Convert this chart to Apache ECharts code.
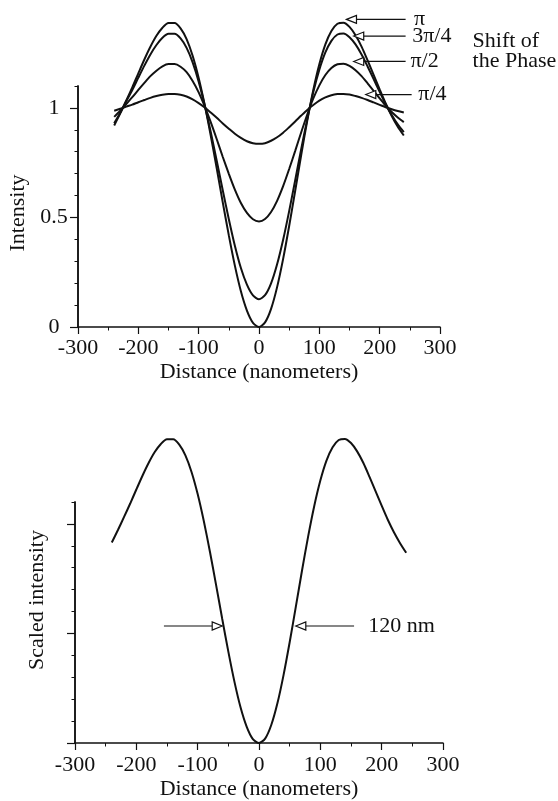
<!DOCTYPE html>
<html>
<head>
<meta charset="utf-8">
<script src="https://cdn.jsdelivr.net/npm/echarts@6/dist/echarts.min.js"></script>
<style>
  html, body { margin: 0; padding: 0; background: #ffffff; }
  #chart { width: 558px; height: 801px; }
</style>
</head>
<body>
<div id="chart"></div>
<script>
// Distance along the profile (nm)
const distance = [
  -240, -230, -220, -210, -200, -190, -180, -170, -160, -150, -140, -130, -120,
  -110, -100, -90, -80, -70, -60, -50, -40, -30, -20, -10, 0,
  10, 20, 30, 40, 50, 60, 70, 80, 90, 100, 110, 120,
  130, 140, 150, 160, 170, 180, 190, 200, 210, 220, 230, 240
];

// Intensity for each phase shift
const intensityPi = [
  0.920, 0.975, 1.034, 1.094, 1.158, 1.221, 1.279, 1.329, 1.366, 1.387, 1.387, 1.363, 1.314,
  1.238, 1.137, 1.014, 0.874, 0.723, 0.568, 0.418, 0.280, 0.163, 0.075, 0.019, 0.000,
  0.021, 0.083, 0.182, 0.311, 0.461, 0.622, 0.786, 0.942, 1.082, 1.199, 1.290, 1.351,
  1.384, 1.389, 1.370, 1.332, 1.280, 1.217, 1.151, 1.084, 1.020, 0.963, 0.914, 0.874
];
const intensity3Pi4 = [
  0.930, 0.978, 1.030, 1.082, 1.138, 1.193, 1.244, 1.287, 1.320, 1.338, 1.338, 1.317, 1.274,
  1.208, 1.120, 1.012, 0.890, 0.758, 0.623, 0.492, 0.371, 0.269, 0.193, 0.144, 0.127,
  0.145, 0.199, 0.286, 0.398, 0.529, 0.670, 0.813, 0.949, 1.072, 1.174, 1.253, 1.306,
  1.335, 1.340, 1.323, 1.290, 1.244, 1.189, 1.132, 1.073, 1.017, 0.968, 0.925, 0.890
];
const intensityPi2 = [
  0.959, 0.987, 1.018, 1.049, 1.082, 1.114, 1.145, 1.170, 1.190, 1.200, 1.200, 1.188, 1.163,
  1.123, 1.071, 1.007, 0.935, 0.857, 0.776, 0.699, 0.627, 0.566, 0.521, 0.492, 0.482,
  0.493, 0.525, 0.576, 0.643, 0.721, 0.804, 0.889, 0.970, 1.043, 1.103, 1.150, 1.182,
  1.199, 1.202, 1.192, 1.172, 1.145, 1.112, 1.078, 1.044, 1.010, 0.981, 0.956, 0.935
];
const intensityPi4 = [
  0.987, 0.996, 1.006, 1.015, 1.026, 1.036, 1.046, 1.054, 1.060, 1.063, 1.063, 1.060, 1.052,
  1.039, 1.022, 1.002, 0.979, 0.955, 0.929, 0.905, 0.882, 0.863, 0.848, 0.839, 0.836,
  0.839, 0.850, 0.866, 0.887, 0.912, 0.938, 0.965, 0.991, 1.013, 1.033, 1.048, 1.058,
  1.063, 1.064, 1.061, 1.054, 1.046, 1.036, 1.025, 1.014, 1.003, 0.994, 0.986, 0.979
];

// Lower panel: the π profile on its own scale
const scaledIntensity = [
  0.915, 0.972, 1.032, 1.093, 1.157, 1.220, 1.278, 1.328, 1.365, 1.386, 1.386, 1.362, 1.313,
  1.237, 1.136, 1.013, 0.873, 0.722, 0.567, 0.417, 0.279, 0.162, 0.074, 0.018, 0.000,
  0.020, 0.082, 0.181, 0.310, 0.460, 0.621, 0.785, 0.941, 1.081, 1.198, 1.289, 1.350,
  1.383, 1.388, 1.369, 1.331, 1.279, 1.216, 1.150, 1.083, 1.019, 0.962, 0.912, 0.868
];

// Tick values
const distanceTicks = [-300, -200, -100, 0, 100, 200, 300];
const intensityTicks = [0, 0.5, 1];

// Annotation text
const phaseLabels = ['π', '3π/4', 'π/2', 'π/4'];
const phaseCaption = ['Shift of', 'the Phase'];
const fwhmNm = 120;
const fwhmLevel = 0.534;

const FONT = '"Liberation Serif", "Times New Roman", serif';
const FS = 22;
const INK = '#111111';

function pairs(ys) { return distance.map((x, i) => [x, ys[i]]); }

const chart = echarts.init(document.getElementById('chart'), null, { renderer: 'canvas' });

function xAxisFor(gridIndex, labelMargin, nameGap) {
  return {
    type: 'value', gridIndex,
    min: distanceTicks[0], max: distanceTicks[distanceTicks.length - 1], interval: 100,
    name: 'Distance (nanometers)', nameLocation: 'middle', nameGap,
    nameTextStyle: { fontFamily: FONT, fontSize: FS, color: INK },
    axisLine: { show: true, onZero: false, lineStyle: { color: INK, width: 1.5 } },
    axisTick: { show: true, inside: false, length: 7, lineStyle: { color: INK, width: 1.2 } },
    minorTick: { show: true, splitNumber: 2, length: 3.5, lineStyle: { color: INK, width: 1 } },
    axisLabel: { show: true, margin: labelMargin, fontFamily: FONT, fontSize: FS, color: INK,
                 showMinLabel: true, showMaxLabel: true },
    splitLine: { show: false }, minorSplitLine: { show: false }
  };
}

function yMajor(gridIndex, withLabels) {
  return {
    type: 'value', gridIndex, position: 'left', min: 0, max: 1.1, interval: 0.5,
    axisLine: { show: true, onZero: false, lineStyle: { color: INK, width: 1.5 } },
    axisTick: { show: true, inside: false, length: 8, customValues: intensityTicks,
                lineStyle: { color: INK, width: 1.2 } },
    axisLabel: { show: withLabels, customValues: intensityTicks, margin: 24, align: 'center',
                 fontFamily: FONT, fontSize: FS, color: INK,
                 formatter: v => (intensityTicks.indexOf(v) >= 0 ? String(v) : '') },
    splitLine: { show: false }
  };
}

function yMinor(gridIndex) {
  return {
    type: 'value', gridIndex, position: 'left', min: 0, max: 1.1, interval: 0.1,
    axisLine: { show: true, onZero: false, lineStyle: { color: INK, width: 1.5 } },
    axisTick: { show: true, inside: false, length: 3.5, lineStyle: { color: INK, width: 1 } },
    axisLabel: { show: false },
    splitLine: { show: false }
  };
}

function curve(name, ys, xi, yi) {
  return {
    type: 'line', name, data: pairs(ys), xAxisIndex: xi, yAxisIndex: yi,
    showSymbol: false, symbol: 'none', smooth: 0.25, clip: false,
    lineStyle: { color: INK, width: 2 }, emphasis: { disabled: true }, z: 3
  };
}

chart.setOption({
  animation: false,
  backgroundColor: '#ffffff',
  textStyle: { fontFamily: FONT },
  grid: [
    { left: 78, top: 86, width: 362, height: 241 },
    { left: 75, top: 502, width: 368, height: 241 }
  ],
  xAxis: [ xAxisFor(0, 10, 34), xAxisFor(1, 11, 35) ],
  yAxis: [ yMajor(0, true), yMinor(0), yMajor(1, false), yMinor(1) ],
  series: [
    curve('π', intensityPi, 0, 0),
    curve('3π/4', intensity3Pi4, 0, 0),
    curve('π/2', intensityPi2, 0, 0),
    curve('π/4', intensityPi4, 0, 0),
    curve('scaled', scaledIntensity, 1, 2)
  ]
});

// Annotation geometry (data coordinates of each panel)
const phaseArrowTips = [[145, 1.404], [157, 1.328], [157, 1.212], [177, 1.061]];
const phaseArrowTailX = [243, 243, 243, 253];
const phaseLabelX = [257, 254, 251, 264];
const captionAt = [[354, 1.305], [354, 1.214]];
const fwhmTailX = 155;
const fwhmTextX = 178;

function px(gridIndex, pt) { return chart.convertToPixel({ gridIndex }, pt); }

function arrow(gridIndex, from, to) {
  const a = px(gridIndex, from), b = px(gridIndex, to);
  const dx = b[0] - a[0], dy = b[1] - a[1];
  const len = Math.hypot(dx, dy), ux = dx / len, uy = dy / len;
  const head = 10, half = 4;
  const bx = b[0] - ux * head, by = b[1] - uy * head;
  return [
    { type: 'line', z: 10, shape: { x1: a[0], y1: a[1], x2: bx, y2: by },
      style: { stroke: INK, lineWidth: 1.2 } },
    { type: 'polygon', z: 11,
      shape: { points: [[b[0], b[1]], [bx - uy * half, by + ux * half], [bx + uy * half, by - ux * half]] },
      style: { fill: '#ffffff', stroke: INK, lineWidth: 1.2 } }
  ];
}

function label(gridIndex, pt, text, align) {
  const p = px(gridIndex, pt);
  return { type: 'text', z: 12, x: p[0], y: p[1],
    style: { text, fontFamily: FONT, fontSize: FS, fill: INK,
             align: align || 'left', verticalAlign: 'middle' } };
}

const graphics = [];
phaseArrowTips.forEach((tip, i) => {
  graphics.push(...arrow(0, [phaseArrowTailX[i], tip[1]], tip));
  graphics.push(label(0, [phaseLabelX[i], tip[1]], phaseLabels[i]));
});
phaseCaption.forEach((t, i) => graphics.push(label(0, captionAt[i], t)));

graphics.push(...arrow(1, [-fwhmTailX, fwhmLevel], [-fwhmNm / 2, fwhmLevel]));
graphics.push(...arrow(1, [fwhmTailX, fwhmLevel], [fwhmNm / 2, fwhmLevel]));
graphics.push(label(1, [fwhmTextX, fwhmLevel], fwhmNm + ' nm'));

// Vertical axis titles
graphics.push({ type: 'text', z: 12, x: 18, y: 213, rotation: Math.PI / 2,
  style: { text: 'Intensity', fontFamily: FONT, fontSize: FS, fill: INK, align: 'center', verticalAlign: 'middle' } });
graphics.push({ type: 'text', z: 12, x: 37, y: 600, rotation: Math.PI / 2,
  style: { text: 'Scaled intensity', fontFamily: FONT, fontSize: FS, fill: INK, align: 'center', verticalAlign: 'middle' } });

chart.setOption({ graphic: graphics });
</script>
</body>
</html>
